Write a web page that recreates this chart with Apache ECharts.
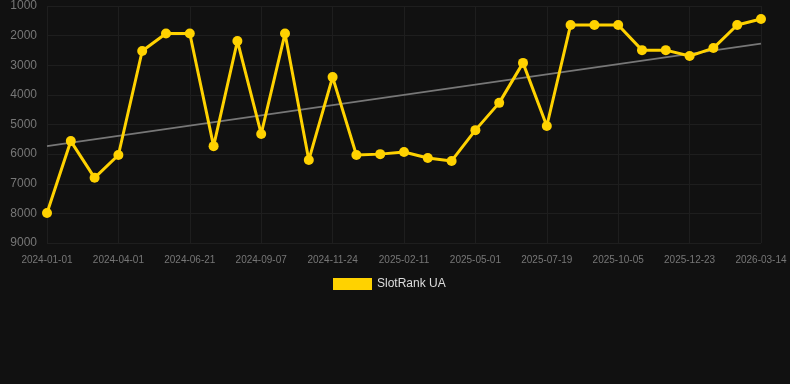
<!DOCTYPE html>
<html>
<head>
<meta charset="utf-8">
<script src="https://cdn.jsdelivr.net/npm/echarts@6/dist/echarts.min.js"></script>
<style>
html,body{margin:0;padding:0;background:#111111;}
#c{width:790px;height:384px;}
</style>
</head>
<body>
<div id="c"></div>
<script>
var categories = [
  '2024-01-01','2024-01-31','2024-03-01','2024-04-01','2024-04-28','2024-05-25',
  '2024-06-21','2024-07-17','2024-08-12','2024-09-07','2024-10-03','2024-10-29',
  '2024-11-24','2024-12-20','2025-01-16','2025-02-11','2025-03-09','2025-04-05',
  '2025-05-01','2025-05-27','2025-06-23','2025-07-19','2025-08-14','2025-09-09',
  '2025-10-05','2025-10-31','2025-11-27','2025-12-23','2026-01-18','2026-02-13',
  '2026-03-14'
];
var rankValues = [
  7990, 5560, 6800, 6030, 2520, 1930,
  1930, 5730, 2180, 5320, 1930, 6200,
  3400, 6030, 6000, 5930, 6130, 6230,
  5190, 4270, 2920, 5050, 1640, 1640,
  1640, 2490, 2490, 2690, 2420, 1640,
  1440
];
var trendValues = [5730].concat(new Array(29).fill(null)).concat([2270]);
var yTicks = {min: 1000, max: 9000, interval: 1000};
var seriesName = 'SlotRank UA';

var chart = echarts.init(document.getElementById('c'));
chart.setOption({
  backgroundColor: '#111111',
  animation: false,
  grid: {left: 47, right: 29, top: 6, bottom: 141},
  legend: {
    data: [{name: seriesName, icon: 'rect'}],
    top: 273,
    left: 328,
    itemWidth: 39,
    itemHeight: 12,
    itemGap: 6,
    textStyle: {color: '#dddddd', fontSize: 12, fontFamily: 'Liberation Sans, Arial, sans-serif'}
  },
  xAxis: {
    type: 'category',
    data: categories,
    boundaryGap: false,
    axisLine: {show: false},
    axisTick: {show: false},
    axisLabel: {interval: 2, color: '#777777', fontSize: 10, margin: 12, fontFamily: 'Liberation Sans, Arial, sans-serif'},
    splitLine: {show: true, interval: 2, lineStyle: {color: '#1e1e1e', width: 1}}
  },
  yAxis: {
    type: 'value',
    inverse: true,
    min: yTicks.min,
    max: yTicks.max,
    interval: yTicks.interval,
    axisLine: {show: false},
    axisTick: {show: false},
    axisLabel: {color: '#777777', fontSize: 12, margin: 10, fontFamily: 'Liberation Sans, Arial, sans-serif',
      formatter: function (v) { return String(v); }},
    splitLine: {show: true, lineStyle: {color: '#1e1e1e', width: 1}}
  },
  series: [
    {
      name: seriesName,
      type: 'line',
      data: rankValues,
      symbol: 'circle',
      symbolSize: 10,
      lineStyle: {color: '#FFD200', width: 3},
      itemStyle: {color: '#FFD200'},
      z: 3
    },
    {
      name: 'trend',
      type: 'line',
      data: trendValues,
      connectNulls: true,
      symbol: 'none',
      lineStyle: {color: '#777777', width: 2},
      itemStyle: {color: '#777777'},
      z: 2
    }
  ]
});
</script>
</body>
</html>
